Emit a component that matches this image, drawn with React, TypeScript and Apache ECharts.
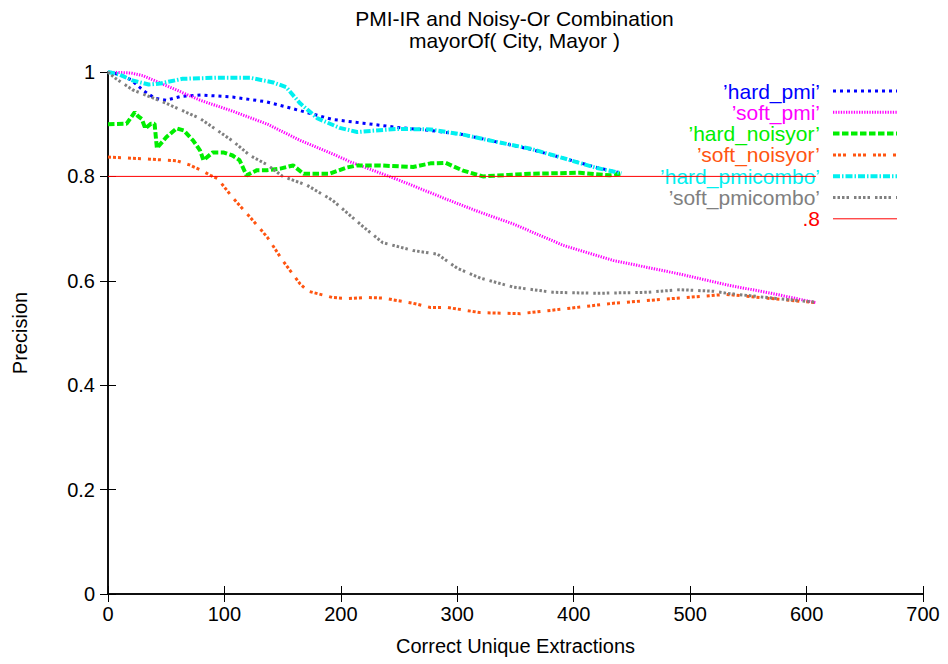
import { useEffect, useRef } from 'react';
import * as echarts from 'echarts';

type Pt = [number, number];

// Precision vs. correct unique extractions, per ranking method
const hardPmi: Pt[] = [
  [0, 1.0], [10, 0.995], [20, 0.985], [30, 0.965], [40, 0.95], [50, 0.946], [62, 0.953],
  [80, 0.956], [107, 0.952], [136, 0.943], [165, 0.926], [193, 0.909], [219, 0.902],
  [248, 0.894], [277, 0.888], [305, 0.88], [334, 0.866], [363, 0.852], [391, 0.835],
  [420, 0.817], [441, 0.806],
];

const softPmi: Pt[] = [
  [0, 1.0], [20, 0.998], [30, 0.993], [50, 0.974], [79, 0.946], [107, 0.925], [137, 0.9],
  [165, 0.869], [193, 0.843], [208, 0.828], [251, 0.792], [291, 0.756], [320, 0.731],
  [348, 0.709], [391, 0.668], [434, 0.639], [491, 0.613], [534, 0.591], [570, 0.576],
  [608, 0.558],
];

const hardNoisyor: Pt[] = [
  [0, 0.9], [16, 0.901], [23, 0.923], [26, 0.915], [29, 0.91], [32, 0.892], [37, 0.901],
  [40, 0.901], [42, 0.854], [50, 0.875], [59, 0.892], [65, 0.888], [73, 0.869], [79, 0.85],
  [82, 0.831], [90, 0.846], [99, 0.846], [107, 0.84], [113, 0.831], [119, 0.802],
  [128, 0.812], [137, 0.812], [148, 0.815], [159, 0.821], [168, 0.805], [190, 0.805],
  [205, 0.817], [214, 0.821], [234, 0.821], [262, 0.818], [277, 0.825], [290, 0.826],
  [305, 0.811], [322, 0.8], [362, 0.805], [405, 0.807], [431, 0.802], [440, 0.805],
];

const softNoisyor: Pt[] = [
  [0, 0.837], [36, 0.833], [59, 0.83], [70, 0.822], [80, 0.812], [88, 0.802], [94, 0.796],
  [108, 0.757], [122, 0.722], [137, 0.683], [150, 0.639], [165, 0.594], [172, 0.58],
  [193, 0.568], [205, 0.566], [222, 0.568], [236, 0.567], [262, 0.557], [277, 0.549],
  [291, 0.549], [320, 0.539], [354, 0.537], [391, 0.546], [434, 0.557], [485, 0.566],
  [531, 0.574], [560, 0.568], [608, 0.558],
];

const hardPmicombo: Pt[] = [
  [0, 1.0], [10, 0.995], [21, 0.984], [35, 0.976], [45, 0.978], [64, 0.987], [93, 0.989],
  [122, 0.989], [142, 0.98], [153, 0.971], [165, 0.94], [180, 0.911], [199, 0.893],
  [214, 0.885], [230, 0.888], [248, 0.891], [277, 0.89], [305, 0.88], [334, 0.866],
  [363, 0.853], [391, 0.835], [420, 0.816], [441, 0.806],
];

const softPmicombo: Pt[] = [
  [0, 1.0], [5, 0.99], [21, 0.966], [50, 0.94], [79, 0.911], [107, 0.868], [122, 0.84],
  [137, 0.822], [150, 0.8], [171, 0.783], [193, 0.754], [220, 0.702], [236, 0.673],
  [262, 0.658], [283, 0.651], [300, 0.624], [320, 0.605], [348, 0.588], [382, 0.578],
  [420, 0.576], [463, 0.578], [491, 0.583], [520, 0.58], [532, 0.576], [570, 0.567],
  [608, 0.559],
];

const threshold: Pt[] = [[0, 0.8], [608, 0.8]];

const seriesNames = [
  '\u2019hard_pmi\u2019',
  '\u2019soft_pmi\u2019',
  '\u2019hard_noisyor\u2019',
  '\u2019soft_noisyor\u2019',
  '\u2019hard_pmicombo\u2019',
  '\u2019soft_pmicombo\u2019',
  '.8',
];
const seriesData: Pt[][] = [hardPmi, softPmi, hardNoisyor, softNoisyor, hardPmicombo, softPmicombo, threshold];

const titleLines = ['PMI-IR and Noisy-Or Combination', 'mayorOf( City, Mayor )'];
const xName = 'Correct Unique Extractions';
const yName = 'Precision';

// line look for each series: colour, width, dash pattern
const looks = [
  { color: '#0000ff', width: 3, dash: [3, 4] },
  { color: '#ff00ff', width: 3, dash: [1.3, 1.3] },
  { color: '#00ee00', width: 4, dash: [6.5, 2.5] },
  { color: '#ff5511', width: 3, dash: [3, 2, 3, 2, 3, 7] },
  { color: '#00f0f0', width: 4, dash: [7, 2, 1.5, 2] },
  { color: '#808080', width: 3, dash: [2.5, 2, 2.5, 2, 2.5, 2, 2.5, 5] },
  { color: '#ff0000', width: 1, dash: null as number[] | null },
];

const FONT = '"Liberation Sans", Arial, Helvetica, sans-serif';

export default function App() {
  const ref = useRef<HTMLDivElement>(null);

  useEffect(() => {
    document.body.style.margin = '0';
    if (!ref.current) return;
    const chart = echarts.init(ref.current, undefined, { renderer: 'svg' });

    const keyRight = 820;
    const keyTop = 91;
    const keyStep = 21.3;

    const graphic: any[] = [];
    titleLines.forEach((line, i) => {
      graphic.push({
        type: 'text',
        z: 0,
        x: 514.5,
        y: 18 + i * 22,
        style: {
          text: line,
          fill: '#000',
          fontSize: 21,
          fontFamily: FONT,
          align: 'center',
          verticalAlign: 'middle',
        },
      });
    });
    seriesNames.forEach((name, i) => {
      const y = keyTop + i * keyStep;
      graphic.push({
        type: 'text',
        z: 0,
        x: keyRight,
        y,
        style: {
          text: name,
          fill: looks[i].color,
          fontSize: 21,
          fontFamily: FONT,
          align: 'right',
          verticalAlign: 'middle',
        },
      });
      graphic.push({
        type: 'line',
        z: 0,
        shape: { x1: 833, y1: y, x2: 897, y2: y },
        style: {
          stroke: looks[i].color,
          lineWidth: looks[i].width,
          lineDash: looks[i].dash ?? undefined,
        },
      });
    });

    const axisLine = { show: true, lineStyle: { color: '#000', width: 1.5 } };
    const axisTick = { show: true, inside: true, length: 8, lineStyle: { color: '#000', width: 1 } };
    const axisLabel = { color: '#000', fontSize: 20, fontFamily: FONT };

    chart.setOption({
      animation: false,
      backgroundColor: '#fff',
      grid: { left: 108, right: 25, top: 72, bottom: 70 },
      xAxis: [
        {
          type: 'value',
          min: 0,
          max: 700,
          interval: 100,
          name: xName,
          nameLocation: 'middle',
          nameGap: 42,
          nameTextStyle: { color: '#000', fontSize: 20, fontFamily: FONT },
          axisLine,
          axisTick,
          axisLabel: { ...axisLabel, margin: 10 },
          splitLine: { show: false },
        },
        {
          type: 'value',
          position: 'top',
          min: 0,
          max: 700,
          interval: 100,
          axisLine,
          axisTick,
          axisLabel: { show: false },
          splitLine: { show: false },
        },
      ],
      yAxis: [
        {
          type: 'value',
          min: 0,
          max: 1,
          interval: 0.2,
          name: yName,
          nameLocation: 'middle',
          nameGap: 78,
          nameTextStyle: { color: '#000', fontSize: 20, fontFamily: FONT },
          axisLine,
          axisTick,
          axisLabel: { ...axisLabel, margin: 13 },
          splitLine: { show: false },
        },
        {
          type: 'value',
          position: 'right',
          min: 0,
          max: 1,
          interval: 0.2,
          axisLine,
          axisTick,
          axisLabel: { show: false },
          splitLine: { show: false },
        },
      ],
      graphic,
      series: seriesData.map((data, i) => ({
        name: seriesNames[i],
        type: 'line',
        data,
        xAxisIndex: 0,
        yAxisIndex: 0,
        symbol: 'none',
        showSymbol: false,
        z: 2 + i * 0.01,
        lineStyle: {
          color: looks[i].color,
          width: looks[i].width,
          type: looks[i].dash ?? 'solid',
          cap: 'butt',
        },
      })),
    });

    return () => chart.dispose();
  }, []);

  return <div ref={ref} style={{ width: 948, height: 664 }} />;
}
